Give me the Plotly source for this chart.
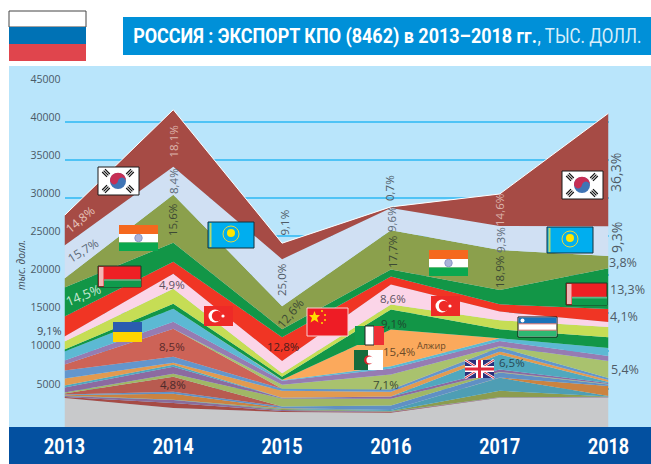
import plotly.graph_objects as go

W, H = 651, 464
years = [2013, 2014, 2015, 2016, 2017, 2018]

# thousand-USD values, bottom of the stack first
other_base = [3805, 2493, 1968, 1876, 3844, 3870]
s01 = [131, 656, 131, 92, 26, 39]
s02 = [131, 394, 131, 66, 39, 66]
s03 = [39, 10, 131, 66, 840, 13]
s04 = [26, 13, 66, 131, 1706, 66]
s05 = [66, 787, 66, 13, 39, 1312]
s06 = [66, 262, 197, 564, 656, 197]
s07 = [131, 1968, 13, 13, 13, 13]
s08 = [131, 394, 1050, 879, 66, 66]
s09 = [656, 918, 66, 302, 328, 131]
s10 = [262, 262, 13, 13, 1968, 131]
s11 = [918, 262, 918, 617, 394, 262]
s12 = [1050, 787, 262, 262, 525, 262]
s13 = [787, 3674, 13, 13, 13, 13]
s14 = [13, 13, 525, 1968, 131, 2230]
s15 = [525, 918, 525, 787, 695, 656]
s16 = [1181, 1706, 66, 302, 354, 1050]
algeria = [0, 0, 66, 4815, 0, 0]
italy = [262, 656, 394, 2624, 1181, 1404]
uzbekistan = [1050, 1968, 459, 656, 1181, 1351]
ukraine = [656, 1968, 1614, 2624, 1141, 656]
turkey = [2624, 1574, 3109, 1050, 958, 1706]
belarus = [3805, 2493, 1050, 918, 1876, 5340]
india = [1181, 6298, 3018, 5156, 5248, 1614]
kazakhstan = [4330, 3674, 6166, 2939, 3149, 3897]
korea = [3936, 7478, 2099, 131, 4198, 14826]

series = [other_base, s01, s02, s03, s04, s05, s06, s07, s08, s09, s10, s11, s12, s13, s14,
          s15, s16, algeria, italy, uzbekistan, ukraine, turkey, belarus, india, kazakhstan, korea]
colors = ["#c8c9cb", "#a64b45", "#8a6d9c", "#8c9c4f", "#4e9eb4", "#cb8340", "#6090c4", "#b85b50",
          "#a0b765", "#8c6aa0", "#50a8be", "#e29a50", "#6396cc", "#cd6357", "#a9c26e", "#967cb2",
          "#5cb9d3", "#fba95c", "#129647", "#c6dd55", "#fbd5e8", "#f03524", "#129647", "#8ba04c",
          "#d0e0f3", "#a64b45"]
tick_vals = [5000, 10000, 15000, 20000, 25000, 30000, 35000, 40000, 45000]

TXT = "Open Sans"
BOLD = "Roboto"

fig = go.Figure()
for i, (vals, col) in enumerate(zip(series, colors)):
    top = i == len(series) - 1
    fig.add_trace(go.Scatter(
        x=years, y=vals, mode="lines", stackgroup="a", fillcolor=col,
        line=dict(color="#ffffff" if top else col, width=1 if top else 0),
        hoverinfo="skip", showlegend=False))


def px(x):
    return x / W


def py(y):
    return 1 - y / H


shapes = []


def rect(x0, y0, x1, y1, fill, line=None, lw=1, layer="above"):
    shapes.append(dict(type="rect", xref="paper", yref="paper", x0=px(x0), x1=px(x1), y0=py(y1), y1=py(y0),
                       fillcolor=fill, line=dict(color=line or fill, width=lw if line else 0), layer=layer))


def circ(cx, cy, r, fill, line=None, lw=0):
    shapes.append(dict(type="circle", xref="paper", yref="paper", x0=px(cx - r), x1=px(cx + r), y0=py(cy + r),
                       y1=py(cy - r), fillcolor=fill, line=dict(color=line or fill, width=lw)))


def seg(x0, y0, x1, y1, col, w):
    shapes.append(dict(type="line", xref="paper", yref="paper", x0=px(x0), x1=px(x1), y0=py(y0), y1=py(y1),
                       line=dict(color=col, width=w)))


def flag_korea(x0, y0):
    x1, y1 = x0 + 41, y0 + 28
    rect(x0, y0, x1, y1, "#ffffff", "#1a1a1a", 1)
    cx, cy = x0 + 20, y0 + 14
    circ(cx, cy, 8, "#3f74b5")
    shapes.append(dict(type="path", xref="paper", yref="paper", fillcolor="#c62f55", line=dict(width=0),
                       path=f"M {px(cx-8)} {py(cy)} C {px(cx-8)} {py(cy-11)}, {px(cx+8)} {py(cy-11)}, {px(cx+8)} {py(cy)} "
                            f"C {px(cx+6)} {py(cy-5)}, {px(cx+1)} {py(cy-4)}, {px(cx)} {py(cy)} "
                            f"C {px(cx-1)} {py(cy+4)}, {px(cx-6)} {py(cy+5)}, {px(cx-8)} {py(cy)} Z"))
    for dx, dy in [(-12, -8), (12, -8), (-12, 8), (12, 8)]:
        sgn = 1 if dx * dy > 0 else -1
        for k in (-2, 0, 2):
            mx, my = cx + dx + k * 0.7, cy + dy - sgn * k * 0.7
            seg(mx - 2.4, my - sgn * 2.4, mx + 2.4, my + sgn * 2.4, "#111111", 1.2)


def flag_kaz(x0, y0):
    rect(x0, y0, x0 + 46, y0 + 26, "#00aeef", "#14303a", 1)
    rect(x0 + 1.5, y0 + 1, x0 + 3.5, y0 + 25, "#b9d66a")
    circ(x0 + 23, y0 + 11, 4, "#ffe600")
    circ(x0 + 23, y0 + 12, 8, "rgba(0,0,0,0)", "#e6d83c", 1)


def flag_india(x0, y0):
    rect(x0, y0, x0 + 39, y0 + 9, "#f5681e")
    rect(x0, y0 + 9, x0 + 39, y0 + 17.5, "#ffffff")
    rect(x0, y0 + 17.5, x0 + 39, y0 + 26, "#0ba84f")
    circ(x0 + 19.5, y0 + 13, 3.8, "#aab3d8", "#6c78b8", 0.6)


def flag_bel(x0, y0, w, h):
    rect(x0, y0, x0 + w, y0 + h, "#ee2024", "#1a3a28", 1)
    rect(x0 + 6, y0 + h * 0.68, x0 + w, y0 + h, "#0f9a4c")
    rect(x0 + 6, y0 + h * 0.63, x0 + w, y0 + h * 0.7, "#5cb98a")
    rect(x0 + 1, y0 + 1, x0 + 5.5, y0 + h - 1, "#f2b6b6")


def flag_tur(x0, y0):
    rect(x0, y0, x0 + 29, y0 + 20, "#ee2a27")
    circ(x0 + 11, y0 + 10, 6.5, "#ffffff")
    circ(x0 + 13, y0 + 10, 5.2, "#ee2a27")
    circ(x0 + 19, y0 + 10, 1.6, "#ffffff")


for_bg = [(9, 66, 651, 427, "#b9e5fb"), (9, 427, 651, 464, "#0350a0"), (123, 17, 651, 55, "#0090d8")]
for a, b, c, d, e in for_bg:
    rect(a, b, c, d, e, layer="below")
# header flag of Russia
rect(9, 11, 86, 27, "#ffffff", "#444444", 1)
rect(9, 27, 86, 44, "#0072b5")
rect(9, 44, 86, 61, "#e0454d")

flag_korea(98, 167)
flag_korea(562, 171)
flag_kaz(208, 222)
flag_kaz(547, 227)
flag_india(119, 225)
flag_india(429, 250)
flag_bel(98, 266, 43, 21)
flag_bel(566, 283, 41, 22)
flag_tur(204, 306)
flag_tur(431, 296)
# Ukraine
rect(113, 322, 142, 332, "#2a5db0")
rect(113, 332, 142, 342, "#ffd500")
# China
rect(307, 308, 348, 336, "#ee1c25", "#f6d3d3", 1)
shapes.append(dict(type="path", xref="paper", yref="paper", fillcolor="#ffde00", line=dict(width=0),
                   path=" ".join(("M" if k == 0 else "L") + f" {px(x)} {py(y)}" for k, (x, y) in enumerate(
                       [(314.5, 311), (316, 315), (320, 315), (317, 318), (318.5, 322.5), (314.5, 320),
                        (310.5, 322.5), (312, 318), (309, 315), (313, 315)])) + " Z"))
for sx, sy in [(322, 311), (325, 315), (325, 320), (322, 323)]:
    circ(sx, sy, 1, "#ffde00")
# Italy
rect(355, 326, 365, 345, "#0f9a4c")
rect(365, 326, 374, 345, "#ffffff", "#222222", 1)
rect(374, 326, 384, 345, "#ee2f35")
# Algeria
rect(354, 350, 368, 370, "#176b3c")
rect(368, 350, 383, 370, "#ffffff")
circ(368.5, 360, 4.5, "#d8232a")
circ(370, 360, 3.6, "#ffffff")
# UK
rect(465, 360, 494, 378, "#2b2f7a")
seg(465, 360, 494, 378, "#ffffff", 2.5)
seg(465, 378, 494, 360, "#ffffff", 2.5)
seg(465, 360, 494, 378, "#e0283a", 1)
seg(465, 378, 494, 360, "#e0283a", 1)
rect(476, 360, 483, 378, "#ffffff")
rect(465, 366, 494, 372, "#ffffff")
rect(478, 360, 481, 378, "#e0283a")
rect(465, 367.5, 494, 370.5, "#e0283a")
# Uzbekistan
rect(518, 317, 557, 337, "#ffffff", "#111111", 1)
rect(518.5, 317.5, 556.5, 323.5, "#1a73ba")
rect(518.5, 330.5, 556.5, 336.5, "#2eb872")
circ(522.5, 320.5, 2, "#ffffff")
rect(518.5, 323.5, 556.5, 324.2, "#d0453a")
rect(518.5, 329.8, 556.5, 330.5, "#d0453a")

anns = []


def label(x, y, t, col="#4f5b66", size=12, angle=0, fam=TXT, style="normal", weight="normal"):
    anns.append(dict(xref="paper", yref="paper", x=px(x), y=py(y), text=t, showarrow=False, textangle=angle,
                     font=dict(color=col, size=size, family=fam, style=style, weight=weight),
                     xanchor="center", yanchor="middle"))


DK = "#3d4a35"
TITLE = "РОССИЯ : ЭКСПОРТ КПО (8462) в 2013–2018 гг."
UNIT = ", ТЫС. ДОЛЛ."
label(80, 219, "14,8%", "#e6c3bb", 12, -40)
label(83, 250, "15,7%", "#5d6a78", 12, -32)
label(172.5, 142, "18,1%", "#dcb3ab", 11.5, -90)
label(173, 181, "8,4%", "#5d6a78", 11.5, -90)
label(172, 220, "15,6%", DK, 11.5, -90)
label(283.5, 223, "9,1%", "#4f5b66", 11.5, -90)
label(281, 280, "25,0%", "#4f5b66", 11.5, -90)
label(290, 313, "12,6%", DK, 12, -50)
label(283, 346, "12,8%", "#4b1c1c", 11.5)
label(172, 284, "4,9%", "#5d5260", 11.5)
label(83, 295, "14,5%", "#c9e8d4", 13, -22)
label(49, 330, "9,1%", "#3f4a55", 11)
label(172, 346, "8,5%", "#5b2a2a", 11.5)
label(173, 384, "4,8%", "#4b2a2a", 11.5)
label(389, 188, "0,7%", "#4f5b66", 11.5, -90)
label(391, 219, "9,6%", "#5d6a78", 11.5, -90)
label(392, 252, "17,7%", DK, 11.5, -90)
label(499, 210, "14,6%", "#dcb3ab", 11.5, -90)
label(500, 240, "9,3%", "#5d6a78", 11.5, -90)
label(499, 272, "18,9%", DK, 11.5, -90)
label(616, 173, "36,3%", "#4f5b66", 14, -90)
label(616, 238, "9,3%", "#4f5b66", 14, -90)
label(623, 262, "3,8%", "#4f5b66", 12.5)
label(627, 289, "13,3%", "#4f5b66", 12.5)
label(624, 316, "4,1%", "#4f5b66", 12.5)
label(625, 369, "5,4%", "#4f5b66", 12.5)
label(393, 298, "8,6%", "#5d5260", 11.5)
label(394, 323, "9,1%", "#1d4a30", 11.5)
label(399, 351, "15,4%", "#6b4a28", 11.5)
label(431, 345, "Алжир", "#6b4a28", 9)
label(386, 384, "7,1%", "#3d4a35", 11.5)
label(512, 362, "6,5%", "#2a4a55", 11.5)
label(21, 265, "тыс. долл.", "#3f4a55", 10, -90, style="italic")
label(335, 36, TITLE, "#ffffff", 21, fam=BOLD, weight="bold")
label(589, 36, UNIT, "#d8eefa", 21, fam=BOLD)

fig.update_layout(
    width=W, height=H, margin=dict(l=0, r=0, t=0, b=0), autosize=False,
    paper_bgcolor="#ffffff", plot_bgcolor="rgba(0,0,0,0)", shapes=shapes, annotations=anns,
    xaxis=dict(domain=[64.5 / W, 608.5 / W], range=[2013, 2018], tickvals=years, showgrid=False, zeroline=False,
               showline=False, ticks="", ticklabelstandoff=4, anchor="y", automargin=False,
               tickfont=dict(family=BOLD, size=22, color="#ffffff", weight="bold")),
    yaxis=dict(domain=[37 / H, (H - 84) / H], range=[0, 45000], tickvals=tick_vals, showgrid=True,
               gridcolor="#4fc3f5", gridwidth=1.5, zeroline=False, showline=False, ticks="", automargin=False,
               ticklabelshift=-5, ticklabelstandoff=3, tickfont=dict(family=TXT, size=10.5, color="#4a5a66"),
               tickformat="d"),
)
post = """
document.body.style.margin='0';document.documentElement.style.overflow='hidden';
function squeeze(){
  document.querySelectorAll('.xtick text').forEach(function(t){
    t.setAttribute('textLength',41);t.setAttribute('lengthAdjust','spacingAndGlyphs');});
  document.querySelectorAll('.annotation-text').forEach(function(t){
    var n=0; var s=t.textContent;
    if(s.indexOf('РОССИЯ')===0) n=404;
    if(s.indexOf(', ТЫС')===0) n=104;
    if(!n||t.getAttribute('data-sq')) return;
    var b=t.getBBox(); var cx=b.x+b.width/2; var k=n/b.width;
    t.setAttribute('data-sq','1');
    t.setAttribute('transform','translate('+cx+' 0) scale('+k+' 1) translate('+(-cx)+' 0)');
  });
}
squeeze();setTimeout(squeeze,60);setTimeout(squeeze,300);
"""
fig.write_html("out.html", config=dict(displayModeBar=False), post_script=post)
